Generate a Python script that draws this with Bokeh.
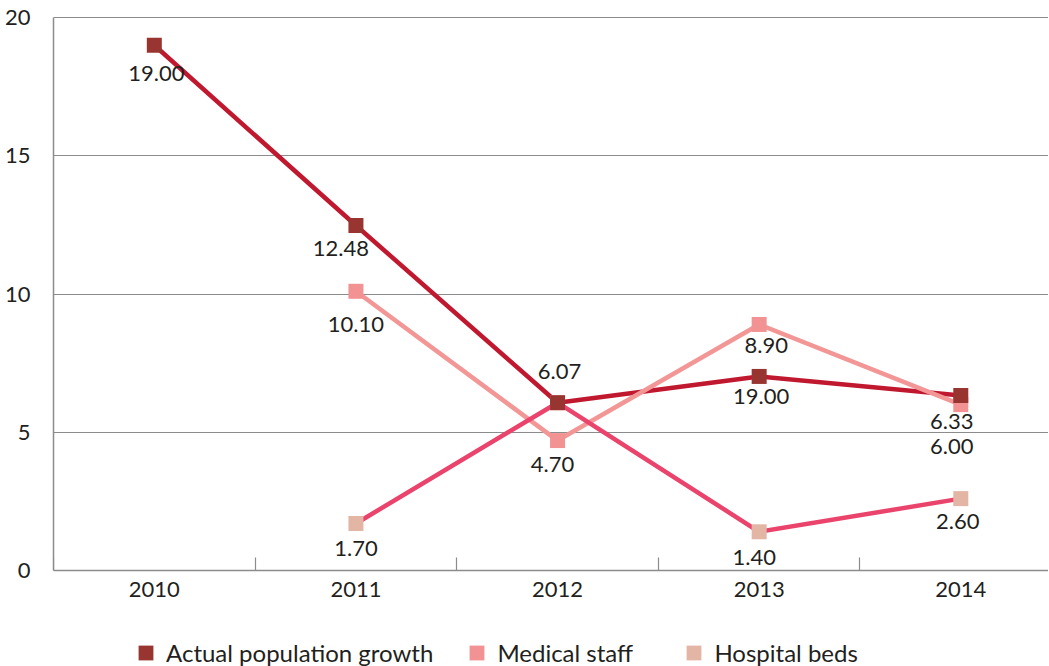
from bokeh.plotting import figure
from bokeh.models import FixedTicker, Legend, LegendItem, ColumnDataSource
from bokeh.core.properties import value
from bokeh.embed import file_html
from bokeh.resources import INLINE

# ---- data ----
years = [2010, 2011, 2012, 2013, 2014]
actual_years = [2010, 2011, 2012, 2013, 2014]
actual_vals = [19.00, 12.48, 6.07, 7.02, 6.33]
actual_labels = ["19.00", "12.48", "6.07", "19.00", "6.33"]

medical_years = [2011, 2012, 2013, 2014]
medical_vals = [10.10, 4.70, 8.90, 6.00]
medical_labels = ["10.10", "4.70", "8.90", "6.00"]

beds_years = [2011, 2012, 2013, 2014]
beds_vals = [1.70, 6.07, 1.40, 2.60]
beds_labels = ["1.70", "", "1.40", "2.60"]

y_ticks = [0, 5, 10, 15, 20]

# ---- label offsets (screen px) ----
actual_dx = [2, -15, 2, 2, -9]
actual_dy = [28, 23, -31, 20, 26]
medical_dx = [0, -5, 7, -9]
medical_dy = [33, 24, 21, 42]
beds_dx = [0, 0, -5, -3]
beds_dy = [25, 0, 26, 23]

FONT = "Lato"
TXT = "#231f20"
GRID = "#8c8c8c"

C_ACT_LINE, C_ACT_MK = "#c0182e", "#983530"
C_MED_LINE, C_MED_MK = "#f39696", "#f39292"
C_BED_LINE, C_BED_MK = "#ea436c", "#e2b5a4"

# frame extends below zero so the legend can sit inside it; the x axis is pinned at y=0
PX_PER_UNIT = 554 / 20.04
FRAME_H = 655
Y_TOP = 20.04
Y_BOTTOM = Y_TOP - FRAME_H / PX_PER_UNIT

p = figure(frame_width=995, frame_height=FRAME_H, output_backend="svg", toolbar_location=None,
           x_range=(2009.5, 2014.435), y_range=(Y_BOTTOM, Y_TOP),
           min_border_left=53, min_border_right=0, min_border_top=16, min_border_bottom=0)
p.outline_line_color = None
p.background_fill_color = "white"
p.border_fill_color = "white"

# grid
p.xgrid.grid_line_color = None
p.ygrid.ticker = FixedTicker(ticks=y_ticks)
p.ygrid.grid_line_color = GRID
p.ygrid.grid_line_width = 1.2

# x axis (pinned at y = 0)
p.xaxis.fixed_location = 0
p.xaxis.ticker = FixedTicker(ticks=years, minor_ticks=[2009.5, 2010.5, 2011.5, 2012.5, 2013.5])
p.xaxis.major_label_overrides = {y: str(y) for y in years}
p.xaxis.major_tick_line_color = None
p.xaxis.minor_tick_in = 13
p.xaxis.minor_tick_out = 0
p.xaxis.minor_tick_line_color = GRID
p.xaxis.minor_tick_line_width = 1.2
p.xaxis.axis_line_color = GRID
p.xaxis.axis_line_width = 1.5
p.xaxis.major_label_text_font = FONT
p.xaxis.major_label_text_font_size = "22px"
p.xaxis.major_label_text_color = TXT
p.xaxis.major_label_standoff = 5

# y axis
p.yaxis.ticker = FixedTicker(ticks=y_ticks)
p.yaxis.bounds = (0, 20)
p.yaxis.major_tick_line_color = None
p.yaxis.minor_tick_line_color = None
p.yaxis.axis_line_color = GRID
p.yaxis.axis_line_width = 1.5
p.yaxis.major_label_text_font = FONT
p.yaxis.major_label_text_font_size = "22px"
p.yaxis.major_label_text_color = TXT
p.yaxis.major_label_standoff = 17

# lines
p.line(actual_years, actual_vals, line_color=C_ACT_LINE, line_width=4.5)
p.line(medical_years, medical_vals, line_color=C_MED_LINE, line_width=4.5)
p.line(beds_years, beds_vals, line_color=C_BED_LINE, line_width=4.5)

# markers
r_med = p.scatter(medical_years, medical_vals, marker="square", size=15,
                  fill_color=C_MED_MK, line_color=None)
r_bed = p.scatter(beds_years, beds_vals, marker="square", size=15,
                  fill_color=C_BED_MK, line_color=None)
r_act = p.scatter(actual_years, actual_vals, marker="square", size=15,
                  fill_color=C_ACT_MK, line_color=None)

# labels
for xs, ys, labs, dxs, dys in [
    (actual_years, actual_vals, actual_labels, actual_dx, actual_dy),
    (medical_years, medical_vals, medical_labels, medical_dx, medical_dy),
    (beds_years, beds_vals, beds_labels, beds_dx, beds_dy),
]:
    src = ColumnDataSource(dict(x=xs, y=ys, t=labs, dx=dxs, dy=dys))
    p.text(x="x", y="y", text="t", x_offset="dx", y_offset="dy", source=src,
           text_font=value(FONT), text_font_size="22px", text_color=TXT,
           text_align="center", text_baseline="middle")

legend = Legend(items=[
    LegendItem(label="Actual population growth", renderers=[r_act]),
    LegendItem(label="Medical staff", renderers=[r_med]),
    LegendItem(label="Hospital beds", renderers=[r_bed]),
], orientation="horizontal", location=(74, 0))
legend.border_line_color = None
legend.background_fill_alpha = 0
legend.padding = 0
legend.margin = 0
legend.spacing = 25
legend.glyph_width = 37
legend.glyph_height = 37
legend.label_standoff = 2
legend.label_width = 153
legend.label_text_font = FONT
legend.label_text_font_size = "24px"
legend.label_text_color = TXT
legend.label_height = 37
p.add_layout(legend, "center")

open("out.html", "w").write(file_html(p, INLINE))
